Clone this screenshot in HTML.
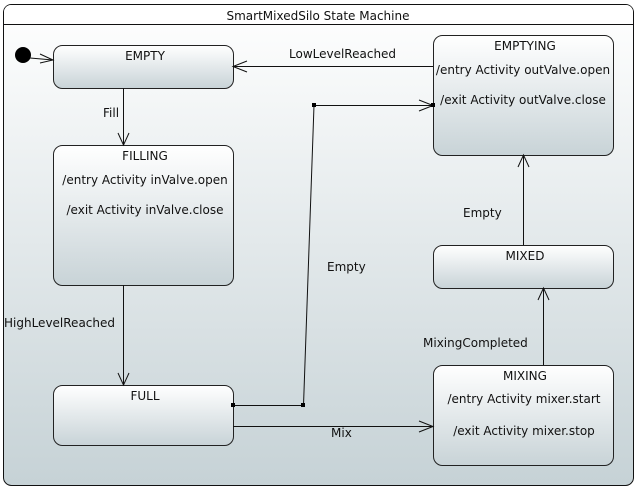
<!DOCTYPE html>
<html><head><meta charset="utf-8"><style>
html,body{margin:0;padding:0;background:#fff;width:639px;height:495px;overflow:hidden}
svg text{font-family:"DejaVu Sans","Liberation Sans",sans-serif;font-size:12px;fill:#111}
</style></head><body>
<svg width="639" height="495" viewBox="0 0 639 495" xmlns="http://www.w3.org/2000/svg">
<defs>
<linearGradient id="bg" x1="0" y1="0" x2="0" y2="1"><stop offset="0" stop-color="#ffffff"/><stop offset="1" stop-color="#c6d2d6"/></linearGradient>
<linearGradient id="st" x1="0" y1="0" x2="0" y2="1"><stop offset="0" stop-color="#ffffff"/><stop offset="1" stop-color="#c8d3d7"/></linearGradient>
</defs>
<rect x="3.5" y="4.5" width="630" height="481" rx="8" fill="url(#bg)" stroke="#111"/>
<line x1="3.5" y1="24.5" x2="633.5" y2="24.5" stroke="#111"/>
<rect x="4" y="5" width="629" height="19" rx="7" fill="#fff"/>
<line x1="3.5" y1="24.5" x2="633.5" y2="24.5" stroke="#111"/>
<text x="318" y="20" text-anchor="middle">SmartMixedSilo State Machine</text>

<g stroke="#222" fill="url(#st)">
<rect x="53.5" y="45.5" width="180" height="43" rx="9"/>
<rect x="53.5" y="145.5" width="180" height="140" rx="9"/>
<rect x="53.5" y="385.5" width="180" height="60" rx="9"/>
<rect x="433.5" y="35.5" width="180" height="120" rx="9"/>
<rect x="433.5" y="245.5" width="180" height="43" rx="9"/>
<rect x="433.5" y="365.5" width="180" height="100" rx="9"/>
</g>
<g text-anchor="middle">
<text x="145" y="60">EMPTY</text>
<text x="145" y="160">FILLING</text>
<text x="145" y="184">/entry Activity inValve.open</text>
<text x="145" y="214">/exit Activity inValve.close</text>
<text x="145" y="400">FULL</text>
<text x="525" y="50">EMPTYING</text>
<text x="523" y="74">/entry Activity outValve.open</text>
<text x="523" y="104">/exit Activity outValve.close</text>
<text x="525" y="260">MIXED</text>
<text x="525" y="380">MIXING</text>
<text x="524" y="403">/entry Activity mixer.start</text>
<text x="524" y="435">/exit Activity mixer.stop</text>
</g>

<circle cx="23" cy="55" r="8" fill="#000"/>
<g stroke="#111" fill="none" stroke-width="1">
<line x1="30" y1="58" x2="53" y2="60"/><polyline points="40,54 53,60 40,63"/>
<line x1="123.5" y1="88" x2="123.5" y2="145"/><polyline points="118,133 123.5,145 129,133"/>
<line x1="123.5" y1="285" x2="123.5" y2="385"/><polyline points="118,373 123.5,385 129,373"/>
<line x1="233" y1="426.5" x2="433" y2="426.5"/><polyline points="419,421 433,426.5 419,432"/>
<line x1="543.5" y1="365" x2="543.5" y2="288"/><polyline points="538,300 543.5,288 549,300"/>
<line x1="523.5" y1="245" x2="523.5" y2="155"/><polyline points="518,167 523.5,155 529,167"/>
<line x1="433" y1="66.5" x2="233" y2="66.5"/><polyline points="247,61 233,66.5 247,72"/>
<polyline points="233,405.5 303.5,405.5 314,105.5 433,105.5"/><polyline points="419,100 433,105.5 419,111"/>
</g>
<g fill="#000">
<rect x="231" y="403" width="4" height="4"/><rect x="301" y="403" width="4" height="4"/>
<rect x="312" y="103" width="4" height="4"/><rect x="431" y="103" width="4" height="4"/>
</g>
<text x="103" y="117">Fill</text>
<text x="4" y="327">HighLevelReached</text>
<text x="331" y="437">Mix</text>
<text x="423" y="347">MixingCompleted</text>
<text x="463" y="217">Empty</text>
<text x="289" y="58">LowLevelReached</text>
<text x="327" y="271">Empty</text>
</svg>
</body></html>
